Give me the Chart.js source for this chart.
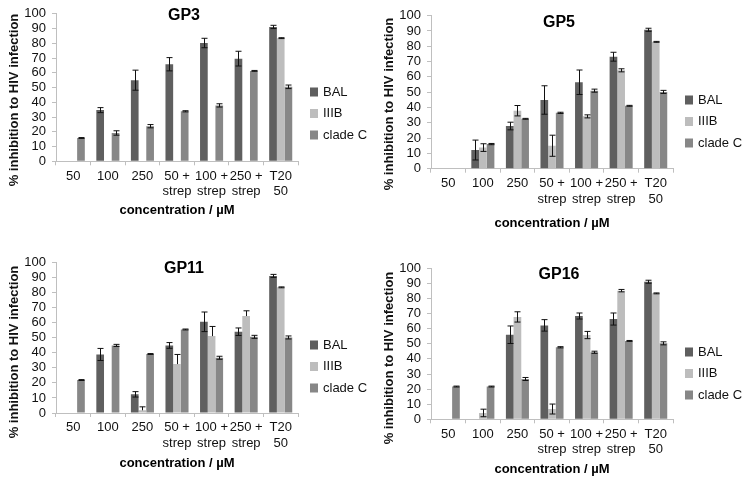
<!DOCTYPE html>
<html>
<head>
<meta charset="utf-8">
<script src="https://cdn.jsdelivr.net/npm/chart.js@4"></script>
<style>
  html, body { margin: 0; padding: 0; background: #fff; }
  #wrap { position: relative; width: 750px; height: 482px; }
  .panel { position: absolute; width: 375px; height: 241px; }
</style>
</head>
<body>
<div id="wrap">
  <div class="panel" style="left:0;top:0"><canvas id="gp3" width="375" height="241"></canvas></div>
  <div class="panel" style="left:375px;top:0"><canvas id="gp5" width="375" height="241"></canvas></div>
  <div class="panel" style="left:0;top:241px"><canvas id="gp11" width="375" height="241"></canvas></div>
  <div class="panel" style="left:375px;top:241px"><canvas id="gp16" width="375" height="241"></canvas></div>
</div>
<script>
// categories and series
const categories = ['50', '100', '250', ['50 +', 'strep'], ['100 +', 'strep'], ['250 +', 'strep'], ['T20', '50']];
const seriesNames = ['BAL', 'IIIB', 'clade C'];
const yTicks = [0, 10, 20, 30, 40, 50, 60, 70, 80, 90, 100];

// GP3
const gp3Bal = [null, 34.7, 55, 65.8, 80.2, 69.6, 91.1];
const gp3Iiib = [null, null, null, null, null, null, 83.5];
const gp3CladeC = [15.8, 19.2, 23.8, 33.9, 37.9, 61.3, 50.5];
const gp3BalErr = [null, 1.7, 6.8, 4.5, 3.2, 5, 1.1];
const gp3IiibErr = [null, null, null, null, null, null, 0.3];
const gp3CladeCErr = [0.3, 1.5, 1.1, 0.4, 1.1, 0.3, 1.2];

// GP5
const gp5Bal = [null, 12.2, 27.9, 44.9, 56.5, 73.2, 90.8];
const gp5Iiib = [null, 13.8, 37.9, 15, 34.2, 64.3, 82.9];
const gp5CladeC = [null, 16.1, 32.6, 36.5, 51, 41.1, 50.2];
const gp5BalErr = [null, 6.5, 2.5, 9.3, 8, 2.9, 1];
const gp5IiibErr = [null, 2.5, 3.4, 6.9, 1, 1, 0.3];
const gp5CladeCErr = [null, 0.4, 0.3, 0.4, 1, 0.3, 1];

// GP11 (IIIB bars carry upper error only: [minus, plus])
const gp11Bal = [null, 38.9, 12.4, 44.9, 60.6, 54, 91.1];
const gp11Iiib = [null, null, 1.8, 32.5, 51.1, 64.4, 83.5];
const gp11CladeC = [21.9, 44.9, 39.2, 55.5, 36.7, 50.6, 50.2];
const gp11BalErr = [null, 4, 1.8, 1.9, 6.5, 2.5, 1];
const gp11IiibErr = [null, null, [0, 2.3], [0, 6.4], [0, 6.4], [0, 3.5], 0.3];
const gp11CladeCErr = [0.3, 0.7, 0.3, 0.3, 1, 1, 1];

// GP16
const gp16Bal = [null, null, 56, 62.2, 68.4, 66.4, 91.1];
const gp16Iiib = [null, 4.2, 67.8, 6.8, 55.8, 85.2, 83.4];
const gp16CladeC = [21.7, 21.7, 26.7, 47.7, 44.4, 51.9, 50.3];
const gp16BalErr = [null, null, 5.8, 3.8, 2, 4, 1];
const gp16IiibErr = [null, 2.5, 3.4, 3.3, 2.4, 0.8, 0.3];
const gp16CladeCErr = [0.3, 0.3, 1, 0.4, 0.7, 0.3, 1];

const colors = ['#5f5f5f', '#bdbdbd', '#878787'];
const axisGray = '#bfbfbf';
const FONT = '"Liberation Sans", Arial, sans-serif';

Chart.defaults.font.family = FONT;
Chart.defaults.color = '#111';

const panels = [
    { id: 'gp3', title: 'GP3', data: [gp3Bal, gp3Iiib, gp3CladeC], err: [gp3BalErr, gp3IiibErr, gp3CladeCErr],
      top: 10, bottom: 161.3, titleY: 16, legendY: 92, yTitleY: 100, xTitleY: 210 },
    { id: 'gp5', title: 'GP5', data: [gp5Bal, gp5Iiib, gp5CladeC], err: [gp5BalErr, gp5IiibErr, gp5CladeCErr],
      top: 15.7, bottom: 168.7, titleY: 22.5, legendY: 100, yTitleY: 104, xTitleY: 223 },
    { id: 'gp11', title: 'GP11', data: [gp11Bal, gp11Iiib, gp11CladeC], err: [gp11BalErr, gp11IiibErr, gp11CladeCErr],
      top: 21.5, bottom: 172, titleY: 27.5, legendY: 104, yTitleY: 111, xTitleY: 222 },
    { id: 'gp16', title: 'GP16', data: [gp16Bal, gp16Iiib, gp16CladeC], err: [gp16BalErr, gp16IiibErr, gp16CladeCErr],
      top: 27.3, bottom: 178.3, titleY: 34, legendY: 111, yTitleY: 117, xTitleY: 228 }
];

const errorBars = {
    id: 'errorBars',
    afterDatasetsDraw(chart) {
        const ctx = chart.ctx;
        const y = chart.scales.y;
        ctx.save();
        ctx.strokeStyle = '#111';
        ctx.lineWidth = 1;
        chart.data.datasets.forEach((ds, di) => {
            const meta = chart.getDatasetMeta(di);
            meta.data.forEach((bar, i) => {
                const v = ds.data[i];
                const e = ds.errors[i];
                if (v == null || e == null) return;
                const [minus, plus] = Array.isArray(e) ? e : [e, e];
                const x = Math.round(bar.x) + 0.5;
                const hi = y.getPixelForValue(v + plus);
                const lo = y.getPixelForValue(v - minus);
                ctx.beginPath();
                ctx.moveTo(x, hi);
                ctx.lineTo(x, lo);
                ctx.moveTo(x - 3, hi);
                ctx.lineTo(x + 3, hi);
                if (minus > 0) {
                    ctx.moveTo(x - 3, lo);
                    ctx.lineTo(x + 3, lo);
                }
                ctx.stroke();
            });
        });
        ctx.restore();
    }
};

const panelText = {
    id: 'panelText',
    afterDraw(chart, args, opts) {
        const ctx = chart.ctx;
        ctx.save();
        ctx.fillStyle = '#000';
        ctx.textBaseline = 'middle';

        // panel title
        ctx.font = 'bold 16px ' + FONT;
        ctx.textAlign = 'center';
        ctx.fillText(opts.title, 184, opts.titleY);

        // legend
        ctx.font = '13px ' + FONT;
        ctx.textAlign = 'left';
        chart.data.datasets.forEach((ds, i) => {
            const ly = opts.legendY + i * 21.5;
            ctx.fillStyle = ds.backgroundColor;
            ctx.fillRect(310, ly - 4.5, 8, 9);
            ctx.fillStyle = '#111';
            ctx.fillText(ds.label, 323, ly);
        });

        // y axis title
        ctx.font = 'bold 13px ' + FONT;
        ctx.textAlign = 'center';
        ctx.translate(14, opts.yTitleY);
        ctx.rotate(-Math.PI / 2);
        ctx.fillText('% inhibition to HIV infection', 0, 0);
        ctx.restore();
    }
};

panels.forEach(p => {
    const scaleBottom = p.xTitleY + 7.8;
    new Chart(document.getElementById(p.id), {
        type: 'bar',
        data: {
            labels: categories,
            datasets: seriesNames.map((name, i) => ({
                label: name,
                data: p.data[i],
                errors: p.err[i],
                backgroundColor: colors[i],
                borderWidth: 0,
                categoryPercentage: 0.667,
                barPercentage: 1
            }))
        },
        plugins: [errorBars, panelText],
        options: {
            responsive: false,
            animation: false,
            events: [],
            layout: {
                padding: { left: 0, right: 77, top: p.top, bottom: 241 - scaleBottom }
            },
            plugins: {
                legend: { display: false },
                tooltip: { enabled: false },
                panelText: { title: p.title, titleY: p.titleY, legendY: p.legendY, yTitleY: p.yTitleY }
            },
            scales: {
                x: {
                    afterFit: s => { s.height = scaleBottom - p.bottom; },
                    grid: { display: true, drawOnChartArea: false, tickLength: 4, color: axisGray, offset: true },
                    border: { color: axisGray },
                    ticks: { font: { size: 13 }, color: '#111', padding: 3, maxRotation: 0, autoSkip: false },
                    title: {
                        display: true,
                        text: 'concentration / µM',
                        font: { size: 13, weight: 'bold' },
                        color: '#000',
                        padding: 0
                    }
                },
                y: {
                    min: 0,
                    max: 100,
                    afterFit: s => { s.width = 56; },
                    afterBuildTicks: s => { s.ticks = yTicks.map(v => ({ value: v })); },
                    grid: { display: true, drawOnChartArea: false, tickLength: 4, color: axisGray },
                    border: { color: axisGray },
                    ticks: { font: { size: 13 }, color: '#111', padding: 6, autoSkip: false }
                }
            }
        }
    });
});
</script>
</body>
</html>
